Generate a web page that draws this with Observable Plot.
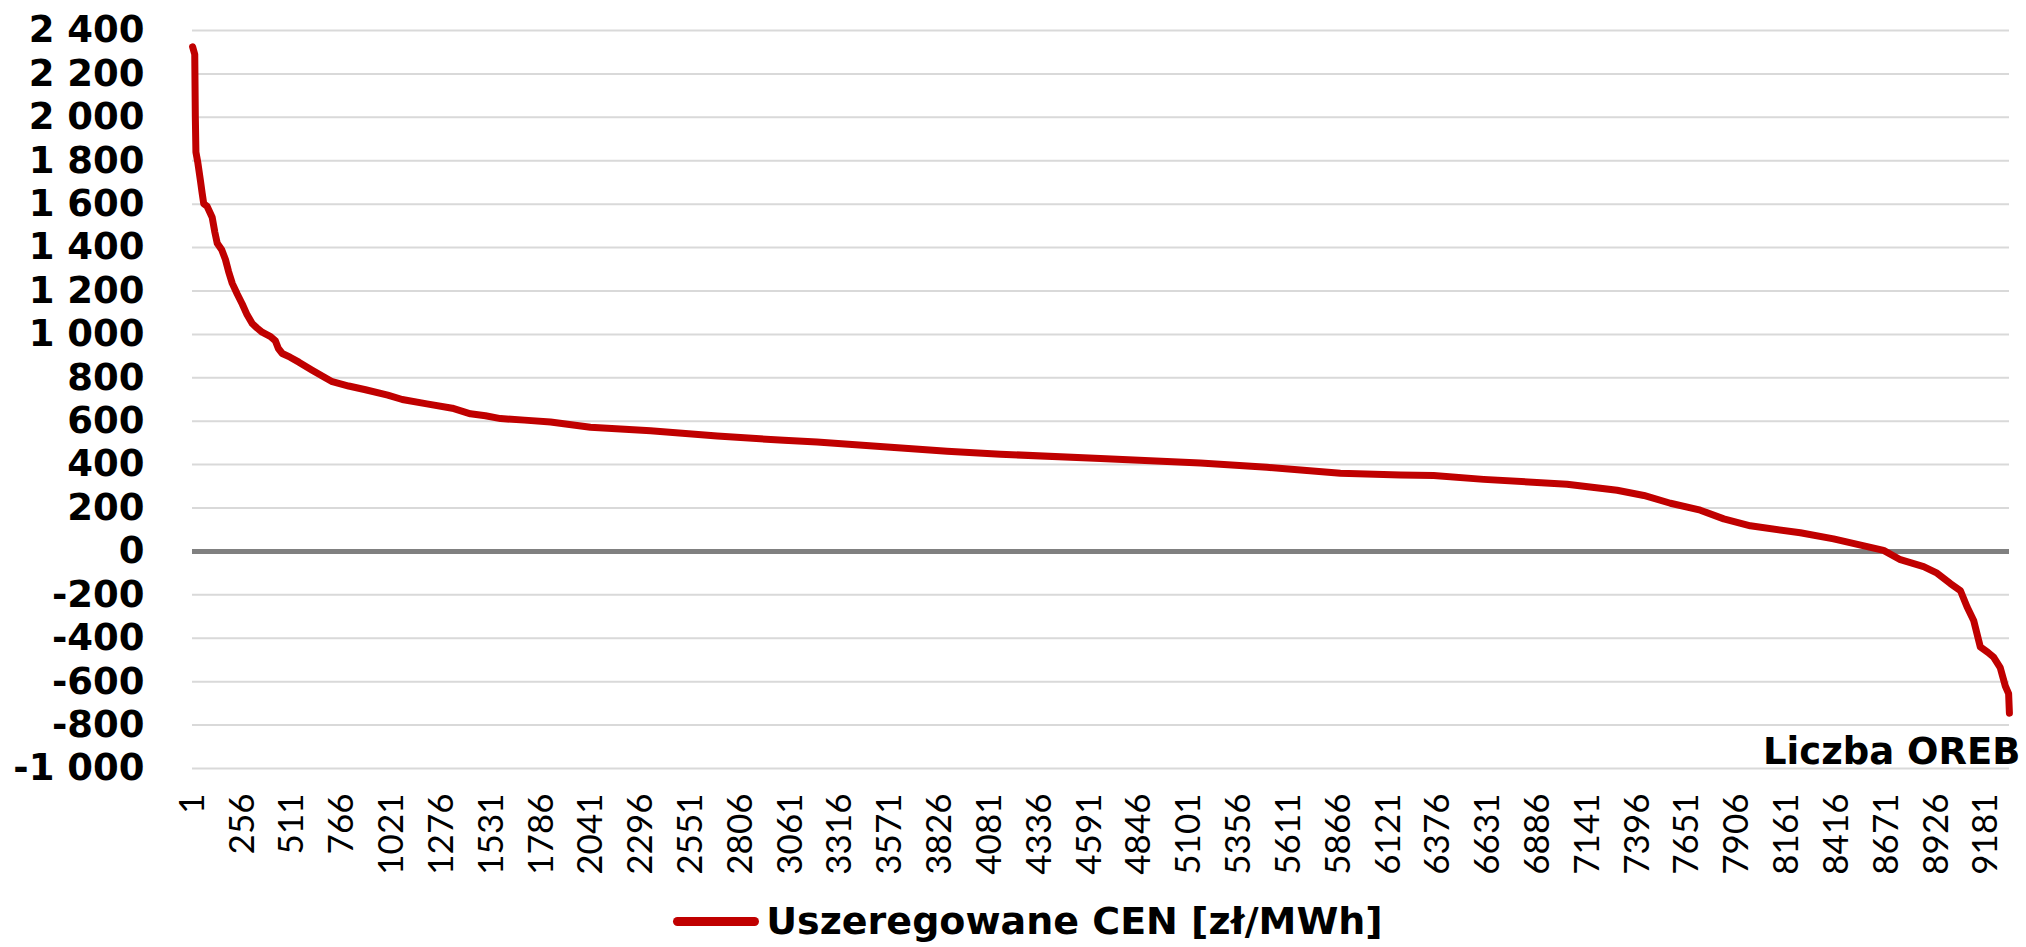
<!DOCTYPE html>
<html>
<head>
<meta charset="utf-8">
<script src="https://cdn.jsdelivr.net/npm/d3@7"></script>
<script src="https://cdn.jsdelivr.net/npm/@observablehq/plot@0.6"></script>
<style>
  html, body { margin: 0; padding: 0; background: #fff; }
  #chart { width: 2026px; height: 895px; }
  #legend { width: 2026px; height: 52px; display: flex; align-items: center; justify-content: center;
    font-family: "DejaVu Sans", sans-serif; font-weight: bold; font-size: 38px; color: #000; padding-left: 30px; box-sizing: border-box; }
  #legend .sw { display: inline-block; width: 86px; height: 9px; border-radius: 5px; background: #c00000; margin-right: 7px; }
</style>
</head>
<body>
<div id="chart"></div>
<div id="legend"><span class="sw"></span><span>Uszeregowane CEN [zł/MWh]</span></div>
<script>
const xTickLabels = [1,256,511,766,1021,1276,1531,1786,2041,2296,2551,2806,3061,3316,3571,3826,4081,4336,4591,4846,5101,5356,5611,5866,6121,6376,6631,6886,7141,7396,7651,7906,8161,8416,8671,8926,9181];
const yTicks = [-1000,-800,-600,-400,-200,0,200,400,600,800,1000,1200,1400,1600,1800,2000,2200,2400];
const ranks = [1,12,15,18,28,41,50,58,75,101,115,127,150,169,185,204,230,255,280,306,330,357,400,425,440,460,500,545,613,680,716,800,886,1000,1074,1200,1330,1423,1500,1577,1700,1833,2037,2345,2686,3027,3197,3538,3863,4136,4648,5159,5500,5876,6183,6353,6609,7036,7292,7429,7565,7718,7838,7974,8230,8400,8656,8742,8861,8930,8998,9049,9083,9117,9151,9190,9219,9253,9279,9296,9300];
const prices = [2325,2290,2000,1840,1790,1709,1650,1602,1590,1540,1470,1420,1390,1345,1290,1235,1185,1140,1090,1050,1030,1010,990,970,935,912,895,872,835,800,782,762,745,720,700,680,660,634,625,612,605,596,572,556,532,512,504,482,462,448,428,408,388,360,352,350,332,310,282,258,222,190,150,118,86,58,5,-38,-70,-100,-148,-180,-255,-318,-440,-465,-487,-535,-620,-655,-745];
const totalCount = 9300;
const axisTitle = "Liczba OREB";

const data = ranks.map((r, i) => ({rank: r, price: prices[i]}));
const fmt = d => (d < 0 ? "-" : "") + d3.format(",")(Math.abs(d)).replace(/,/g, " ");

const chart = Plot.plot({
  width: 2026,
  height: 895,
  marginLeft: 192,
  marginRight: 17,
  marginTop: 30,
  marginBottom: 127,
  style: {fontFamily: "Lato, sans-serif", color: "#000", background: "#fff", overflow: "visible"},
  x: {domain: [0.5, totalCount + 0.5]},
  y: {domain: [-1000, 2400]},
  marks: [
    Plot.gridY(yTicks.filter(d => d !== 0), {stroke: "#d9d9d9", strokeOpacity: 1, strokeWidth: 2}),
    Plot.ruleY([0], {stroke: "#808080", strokeWidth: 5}),
    Plot.line(data, {x: "rank", y: "price", stroke: "#c00000", strokeWidth: 7, strokeLinejoin: "round", strokeLinecap: "round"}),
    Plot.axisY(yTicks, {tickSize: 0, tickPadding: 48, tickFormat: fmt, fontSize: 37, fontWeight: "bold", fontFamily: "DejaVu Sans", fill: "#000", label: null}),
    Plot.axisX(xTickLabels, {tickSize: 0, tickRotate: -90, tickPadding: 25, tickFormat: d => String(d), fontSize: 35, fill: "#000", label: null}),
    Plot.text([axisTitle], {text: d => d, frameAnchor: "bottom-right", textAnchor: "end", lineAnchor: "bottom", dx: 11, dy: -5, fontSize: 37, fontWeight: "bold", fontFamily: "DejaVu Sans", fill: "#000"})
  ]
});
document.getElementById("chart").appendChild(chart);
</script>
</body>
</html>
